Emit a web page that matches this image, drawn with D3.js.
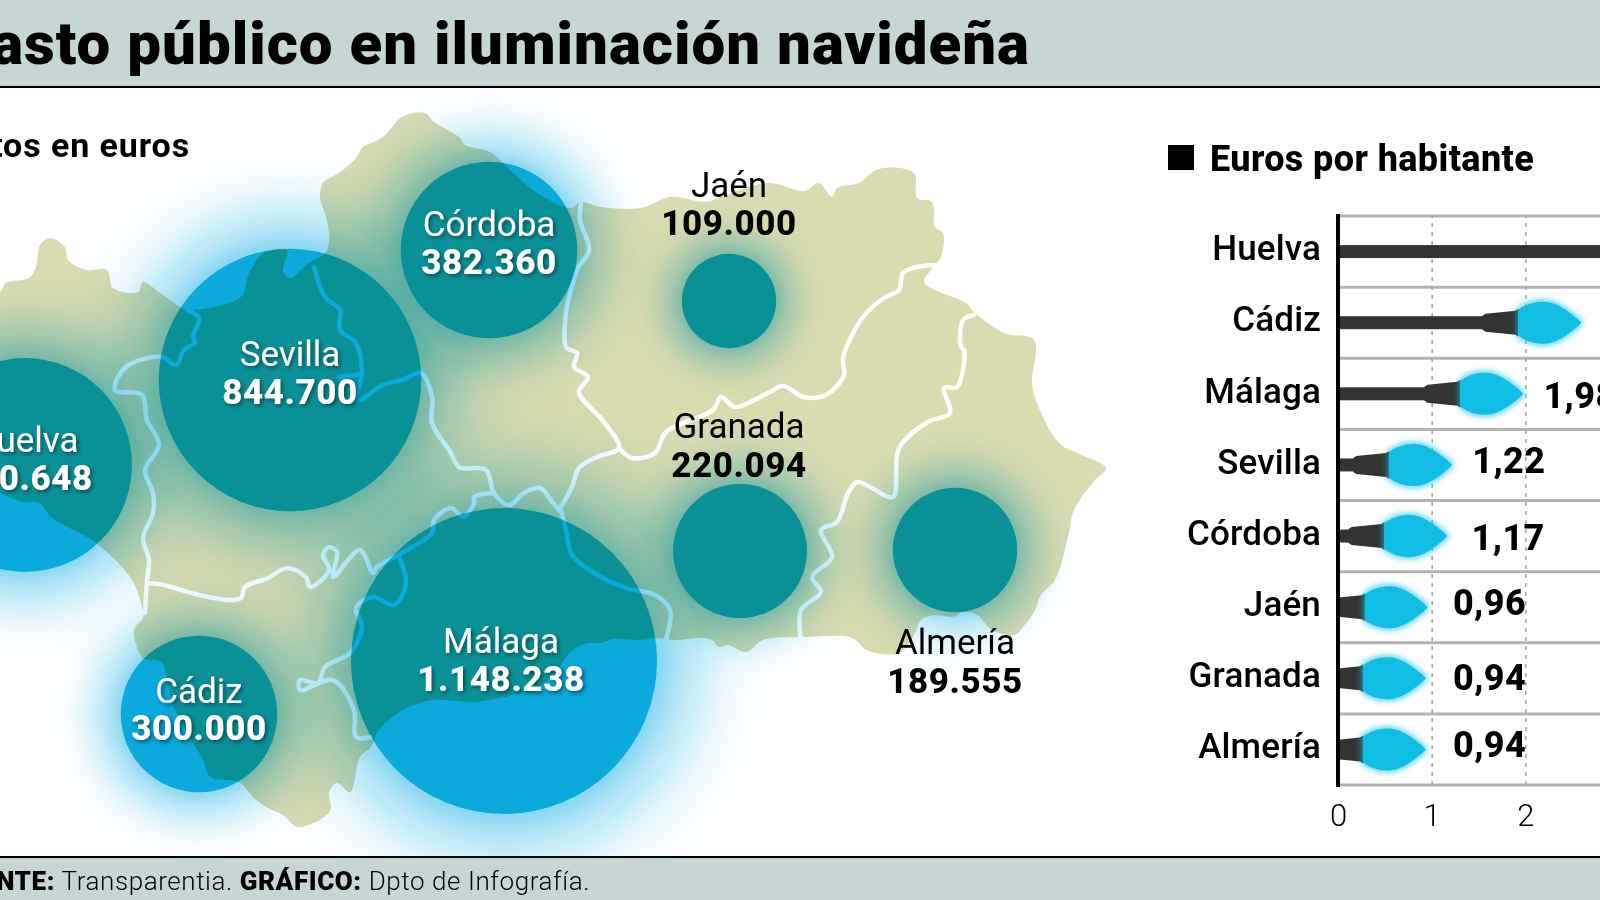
<!DOCTYPE html>
<html>
  <head>
    <meta http-equiv="content-type" content="text/html; charset=utf-8" />
    <title>Gasto público en iluminación navideña</title>
    <script src="https://d3js.org/d3.v7.min.js"></script>
    <style type="text/css">
      html, body { margin: 0; padding: 0; background: #fff; overflow: hidden; }
      svg { display: block; font-family: Roboto, sans-serif; }
    </style>
  </head>
  <body>
    <script type="text/javascript">
// Data
var cities = ["Huelva", "Sevilla", "Córdoba", "Jaén", "Granada", "Almería", "Málaga", "Cádiz"];
var spend = [560648, 844700, 382360, 109000, 220094, 189555, 1148238, 300000];
var cityLon = [25, 290, 489, 729, 740, 955, 504, 199];
var cityLat = [465, 380, 250, 301, 551, 550, 661, 714];

var rowNames = ["Huelva", "Cádiz", "Málaga", "Sevilla", "Córdoba", "Jaén", "Granada", "Almería"];
var perHead = [3.92, 2.60, 1.98, 1.22, 1.17, 0.96, 0.94, 0.94];
var perHeadTicks = [0, 1, 2, 3];

// Andalucía outline and province borders, in map units
var coast = [[-20,292],[0,292],[6,283],[29,278],[36,267],[40,245],[50,238],[65,247],[68,260],[86,270],[107,270],[113,288],[138,292],[143,282],[159,292],[180,307],[187,310],[241,297],[249,273],[264,253],[287,250],[283,272],[291,278],[306,265],[325,253],[329,243],[327,220],[320,197],[323,183],[339,173],[356,158],[362,148],[383,137],[402,117],[425,113],[434,122],[459,137],[465,145],[490,152],[505,165],[536,192],[570,208],[581,202],[601,207],[628,209],[645,207],[670,197],[706,202],[721,197],[768,183],[804,191],[819,183],[832,197],[837,188],[859,183],[879,169],[914,173],[917,198],[932,202],[935,227],[943,233],[941,257],[935,265],[924,282],[935,290],[966,303],[974,312],[1004,333],[1034,340],[1032,383],[1037,403],[1059,443],[1077,453],[1106,468],[1095,480],[1074,510],[1068,537],[1055,580],[1041,595],[1034,612],[1023,627],[1015,635],[992,630],[977,615],[964,612],[952,617],[935,615],[921,620],[915,633],[899,653],[866,650],[859,643],[850,637],[804,637],[763,640],[746,652],[728,645],[719,647],[710,639],[674,640],[657,638],[641,640],[612,639],[601,643],[589,643],[573,650],[555,672],[535,690],[513,695],[474,702],[432,700],[398,713],[377,733],[371,747],[360,757],[350,792],[337,783],[329,792],[330,811],[298,827],[283,815],[268,808],[253,797],[239,782],[210,777],[203,760],[188,735],[172,703],[161,662],[143,658],[134,630],[143,618],[143,612],[132,580],[96,543],[52,518],[38,502],[23,502],[0,493],[-20,485]];
var borders = [
  [[187,310],[199,318],[193,337],[195,343],[184,350],[176,365],[161,357],[126,367],[115,390],[142,395],[147,420],[159,445],[145,470],[153,493],[153,513],[143,538],[149,560],[147,580],[145,613]],
  [[147,583],[164,585],[199,595],[230,600],[241,598],[245,587],[268,578],[287,568],[306,577],[310,587],[329,570],[323,555],[329,547],[337,552],[333,577],[360,550],[373,573],[377,567],[398,555],[432,533],[434,520],[451,508],[463,517],[474,503],[474,497],[494,493]],
  [[314,267],[325,297],[340,310],[340,330],[356,343],[362,370],[358,400],[383,385],[402,380],[421,373],[432,397],[432,423],[451,453],[459,467],[486,470],[494,493],[509,505],[524,493],[540,488],[553,503],[562,513]],
  [[362,374],[339,377]],
  [[581,202],[580,220],[589,250],[578,268],[570,293],[566,313],[566,347],[577,353],[574,367],[588,377],[579,392],[604,422],[619,448],[597,457],[579,468],[572,487],[559,510]],
  [[619,448],[632,458],[655,453],[666,432],[713,410],[721,397],[735,407],[768,393],[783,386],[804,397],[826,395],[844,375],[843,358],[863,317],[884,298],[899,290],[903,273],[917,267],[938,265]],
  [[974,315],[963,320],[961,347],[964,350],[957,387],[944,388],[950,413],[928,422],[899,448],[893,497],[870,487],[857,482],[848,493],[837,522],[821,530],[832,557],[812,577],[821,592],[801,610],[801,640]],
  [[561,510],[566,530],[572,555],[594,573],[626,588],[655,595],[670,610],[666,640]],
  [[398,555],[406,583],[394,605],[373,597],[356,608],[362,627],[350,653],[325,667],[318,683],[300,680],[300,690],[333,680],[354,710],[356,737],[371,737]]
];

var w = 1600, h = 900;
var bandColor = "#c6d6d4", ink = "#000", barColor = "#333";
var seaBlue = "#0ba9dc", glowBlue = "#12b0e4", landColor = "#dadbb0", bulbColor = "#10bde3";

var svg = d3.select("body").append("svg").attr("width", w).attr("height", h);
svg.append("rect").attr("width", w).attr("height", h).attr("fill", "#fff");

var defs = svg.append("defs");
var shadow = defs.append("filter").attr("id", "label-shadow")
  .attr("x", "-20%").attr("y", "-30%").attr("width", "140%").attr("height", "160%");
shadow.append("feDropShadow").attr("dx", 2).attr("dy", 2).attr("stdDeviation", 2)
  .attr("flood-color", "#00333d").attr("flood-opacity", 0.75);
var bulbGlow = defs.append("filter").attr("id", "bulb-glow")
  .attr("x", "-30%").attr("y", "-50%").attr("width", "160%").attr("height", "200%");
bulbGlow.append("feGaussianBlur").attr("stdDeviation", 3);

// ---- map ----
var es = d3.formatLocale({ decimal: ",", thousands: ".", grouping: [3], currency: ["", ""] });
var thousands = es.format(",d");

var projection = d3.geoIdentity();
var radius = d3.scaleSqrt().domain([0, 1148238]).range([0, 153]);
var mapLine = d3.line()
  .x(function(p) { return projection(p)[0]; })
  .y(function(p) { return projection(p)[1]; })
  .curve(d3.curveCatmullRom.alpha(0.5));

var spots = cities.map(function(d, i) {
  var p = projection([cityLon[i], cityLat[i]]);
  return { name: d, value: spend[i], x: p[0], y: p[1], r: radius(spend[i]) };
});

// glow and discs sit under the land, the land multiplies over them
var glows = svg.append("g");
spots.forEach(function(d) {
  var id = "glow-" + d.name.normalize("NFD").replace(/[^a-zA-Z]/g, "");
  defs.append("filter").attr("id", id).attr("filterUnits", "userSpaceOnUse")
    .attr("x", 0).attr("y", 0).attr("width", w).attr("height", h)
    .append("feGaussianBlur").attr("stdDeviation", 12 + d.r * 0.25);
  glows.append("circle")
    .attr("cx", d.x).attr("cy", d.y).attr("r", d.r * 1.06)
    .attr("fill", glowBlue).attr("filter", "url(#" + id + ")");
});
svg.append("g").selectAll("circle").data(spots).enter().append("circle")
  .attr("cx", function(d) { return d.x; })
  .attr("cy", function(d) { return d.y; })
  .attr("r", function(d) { return d.r; })
  .attr("fill", seaBlue);

var land = svg.append("g").style("mix-blend-mode", "multiply");
land.append("path")
  .attr("d", mapLine(coast) + "Z")
  .attr("fill", landColor);
land.append("g").selectAll("path").data(borders).enter().append("path")
  .attr("d", mapLine)
  .attr("fill", "none").attr("stroke", "#fff").attr("stroke-width", 4.5)
  .attr("stroke-linejoin", "round").attr("stroke-linecap", "round");

// label baselines, measured from each disc centre
var nameDy = [-13, -14, -14, -104, -113, 104, -8, -11];
var valueDy = [25, 24, 24, -66, -74, 143, 30, 26];
var labelDx = [0, 0, 0, 0, -1, 0, -3, 0];
var darkLabels = ["Jaén", "Granada", "Almería"];

var labels = svg.append("g").attr("text-anchor", "middle").attr("font-size", 35);
spots.forEach(function(d, i) {
  var dark = darkLabels.indexOf(d.name) >= 0;
  var g = labels.append("g")
    .attr("fill", dark ? ink : "#fff")
    .attr("filter", dark ? null : "url(#label-shadow)");
  g.append("text").attr("x", d.x + labelDx[i]).attr("y", d.y + nameDy[i])
    .attr("font-weight", 400).text(d.name);
  g.append("text").attr("x", d.x + labelDx[i]).attr("y", d.y + valueDy[i])
    .attr("font-weight", 800).attr("letter-spacing", 0.6).text(thousands(d.value));
});

// ---- bulbs panel ----
var x = d3.scaleLinear().domain([0, 3]).range([1338, 1619]);
var y = d3.scaleBand().domain(rowNames).range([216, 785]);
var rows = rowNames.map(function(d, i) { return { name: d, value: perHead[i] }; });

var panel = svg.append("g");

panel.append("g").selectAll("line").data(d3.range(rowNames.length + 1)).enter().append("line")
  .attr("x1", 1340).attr("x2", w)
  .attr("y1", function(i) { return 216 + i * y.step(); })
  .attr("y2", function(i) { return 216 + i * y.step(); })
  .attr("stroke", "#b3b3b3").attr("stroke-width", 3);

var xAxis = d3.axisBottom(x).tickValues(perHeadTicks).tickSize(-569).tickPadding(19)
  .tickFormat(d3.format("d"));
var xg = panel.append("g").attr("transform", "translate(0,785)").call(xAxis);
xg.select(".domain").remove();
xg.selectAll("line").attr("stroke", "#a3a3a3").attr("stroke-width", 1.5).attr("stroke-dasharray", "4,5")
  .filter(function(d) { return d === 0; }).remove();
xg.selectAll("text").attr("fill", ink).attr("font-size", 31).attr("font-weight", 300)
  .attr("font-family", "Roboto, sans-serif");

defs.append("clipPath").attr("id", "panel-clip").append("rect")
  .attr("x", x(0)).attr("y", 200).attr("width", w).attr("height", 600);

var marks = panel.append("g").attr("clip-path", "url(#panel-clip)");

// one bulb, tip on the origin, pointing right
var bulbPath = "M-63,-13 C-56,-18 -48,-21 -38,-21 C-24,-21 -10,-9 -1,-1 Q0,0 -1,1 C-10,9 -24,21 -38,21 C-48,21 -56,18 -63,13 Z";
var socketPath = "M-99,-7 L-96,-9 L-66,-12 L-63,-14 L-63,14 L-66,12 L-96,9 L-99,7 Z";

var row = marks.selectAll("g.row").data(rows).enter().append("g").attr("class", "row");
row.append("rect")
  .attr("x", x(0))
  .attr("y", function(d) { return y(d.name) + y.bandwidth() / 2 - 6.5; })
  .attr("width", function(d) { return Math.max(0, x(d.value) - x(0) - 90); })
  .attr("height", 13)
  .attr("fill", barColor);
var tips = row.append("g")
  .attr("transform", function(d) { return "translate(" + x(d.value) + "," + (y(d.name) + y.bandwidth() / 2) + ")"; });
tips.append("path").attr("d", socketPath).attr("fill", barColor);
tips.append("path").attr("d", bulbPath).attr("fill", bulbColor).attr("stroke", bulbColor)
  .attr("stroke-width", 3).attr("stroke-linejoin", "round").attr("opacity", 0.8).attr("filter", "url(#bulb-glow)");
tips.append("path").attr("d", bulbPath).attr("fill", bulbColor);

var yAxis = d3.axisLeft(y).tickSize(0).tickPadding(17);
var yg = panel.append("g").attr("transform", "translate(1338,0)").call(yAxis);
yg.select(".domain").remove();
yg.selectAll("text").attr("fill", ink).attr("font-size", 35).attr("font-weight", 500).attr("letter-spacing", 0.15)
  .attr("font-family", "Roboto, sans-serif").attr("dy", "0.25em");

panel.append("line").attr("x1", 1338).attr("x2", 1338).attr("y1", 214).attr("y2", 787)
  .attr("stroke", ink).attr("stroke-width", 4);

var valueDx = [24, 24, 20, 20, 24, 25, 27, 27];
var valueNudge = [8, 8, 14, 8, 14, 8, 12, 8];
panel.append("g").selectAll("text").data(rows).enter().append("text")
  .attr("x", function(d, i) { return x(d.value) + valueDx[i]; })
  .attr("y", function(d, i) { return y(d.name) + y.bandwidth() / 2 + valueNudge[i]; })
  .attr("fill", ink).attr("font-size", 36).attr("font-weight", 800).attr("letter-spacing", 0.4)
  .text(function(d) { return d.value.toFixed(2).replace(".", ","); });

// ---- frame and titles ----
svg.append("rect").attr("width", w).attr("height", 87).attr("fill", bandColor);
svg.append("rect").attr("y", 86).attr("width", w).attr("height", 2).attr("fill", ink);
svg.append("rect").attr("y", 857).attr("width", w).attr("height", 43).attr("fill", bandColor);
svg.append("rect").attr("y", 856).attr("width", w).attr("height", 2).attr("fill", ink);

svg.append("text").attr("x", 1030).attr("y", 64).attr("text-anchor", "end")
  .attr("font-size", 60).attr("font-weight", 900).attr("letter-spacing", 1).attr("fill", ink)
  .text("Gasto público en iluminación navideña");

svg.append("text").attr("x", 190).attr("y", 157).attr("text-anchor", "end")
  .attr("font-size", 34).attr("font-weight", 700).attr("letter-spacing", 0.9).attr("fill", ink)
  .text("Gastos en euros");

svg.append("rect").attr("x", 1168).attr("y", 145).attr("width", 26).attr("height", 25).attr("fill", ink);
svg.append("text").attr("x", 1210).attr("y", 170.5)
  .attr("font-size", 36).attr("font-weight", 800).attr("letter-spacing", 0.4).attr("fill", ink)
  .text("Euros por habitante");

var source = svg.append("text").attr("x", 590).attr("y", 890).attr("text-anchor", "end")
  .attr("font-size", 26).attr("letter-spacing", 0.58).attr("fill", ink);
source.append("tspan").attr("font-weight", 900).text("FUENTE:");
source.append("tspan").attr("font-weight", 300).text(" Transparentia. ");
source.append("tspan").attr("font-weight", 900).text("GRÁFICO:");
source.append("tspan").attr("font-weight", 300).text(" Dpto de Infografía.");
    </script>
  </body>
</html>
